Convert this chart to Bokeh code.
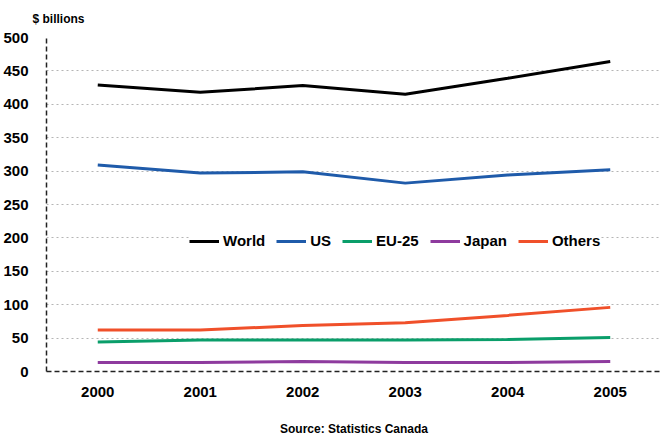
from bokeh.plotting import figure
from bokeh.models import Range1d, FixedTicker, Legend, LegendItem, Title
from bokeh.embed import file_html
from bokeh.resources import INLINE

# Trade values, $ billions
years = [2000, 2001, 2002, 2003, 2004, 2005]
world = [429, 418, 428, 415, 439, 464]
us = [309, 297, 299, 282, 294, 302]
eu25 = [44, 47, 47, 47, 48, 51]
japan = [13.5, 13.5, 15, 13.5, 13.5, 15]
others = [62, 62, 69, 73, 84, 96]

series_names = ["World", "US", "EU-25", "Japan", "Others"]
series_values = [world, us, eu25, japan, others]
series_colors = ["#000000", "#1F5BAA", "#0A9E6A", "#8E3B9E", "#F0502A"]

FONT = "Liberation Sans"

p = figure(width=661, height=438, output_backend="svg", toolbar_location=None,
           x_range=Range1d(1999.5, 2005.5), y_range=Range1d(0, 500),
           min_border_left=44, min_border_right=0, min_border_top=37,
           min_border_bottom=67, outline_line_color=None)

items = []
for name, vals, col in zip(series_names, series_values, series_colors):
    r = p.line(years, vals, line_color=col, line_width=3)
    items.append(LegendItem(label=name, renderers=[r]))

# axes
p.xaxis.ticker = FixedTicker(ticks=years)
p.yaxis.ticker = FixedTicker(ticks=list(range(0, 501, 50)))
for ax in (p.xaxis[0], p.yaxis[0]):
    ax.axis_line_color = "#222222"
    ax.axis_line_width = 1.5
    ax.axis_line_dash = "5 3"
    ax.major_tick_line_color = None
    ax.minor_tick_line_color = None
    ax.major_label_text_font = FONT
    ax.major_label_text_font_style = "bold"
    ax.major_label_text_color = "#000000"
p.xaxis.major_label_text_font_size = "15px"
p.xaxis.major_label_standoff = 9
p.yaxis.major_label_text_font_size = "15px"
p.yaxis.major_label_standoff = 12

# source note as the category axis caption
p.xaxis.axis_label = "Source: Statistics Canada"
p.xaxis.axis_label_standoff = 22
p.xaxis.axis_label_text_font = FONT
p.xaxis.axis_label_text_font_style = "bold"
p.xaxis.axis_label_text_font_size = "12px"
p.xaxis.axis_label_text_color = "#000000"

p.xgrid.grid_line_color = None
p.ygrid.grid_line_color = "#B5B5B5"
p.ygrid.grid_line_dash = "2 3"
p.ygrid.grid_line_width = 1

legend = Legend(items=items, orientation="horizontal", location=(143, 122),
                glyph_width=30, glyph_height=14, label_standoff=4, spacing=11,
                padding=4, margin=0,
                label_text_font=FONT, label_text_font_style="bold",
                label_text_font_size="15px", label_text_color="#000000",
                background_fill_color="white", background_fill_alpha=1.0,
                border_line_color=None)
p.add_layout(legend, "center")

# unit caption above the value axis
p.add_layout(Title(text="$ billions", align="left", offset=-14, standoff=20,
                   vertical_align="top",
                   text_font=FONT, text_font_style="bold",
                   text_font_size="12px", text_color="#000000"), "above")

open("out.html", "w").write(file_html(p, INLINE))
